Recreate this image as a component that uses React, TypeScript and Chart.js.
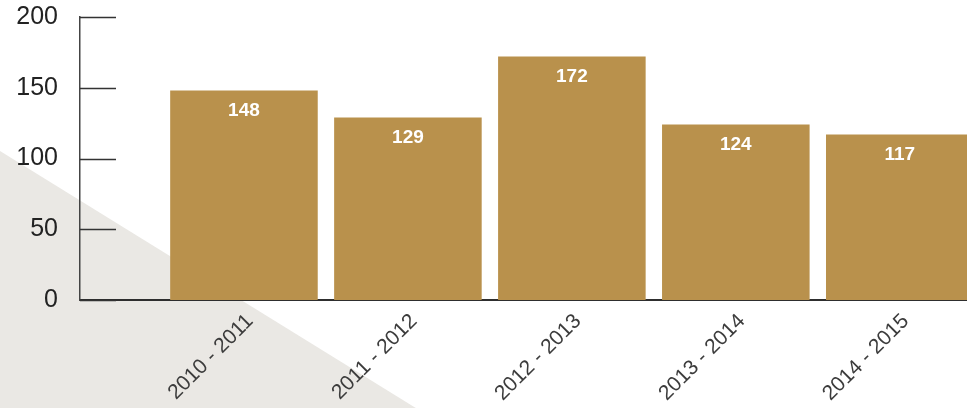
import React, { useEffect, useRef } from "react";
import { Chart, registerables } from "chart.js";

Chart.register(...registerables);

const categories: string[] = ["2010 - 2011", "2011 - 2012", "2012 - 2013", "2013 - 2014", "2014 - 2015"];
const values: number[] = [148, 129, 172, 124, 117];
const yTicks: number[] = [0, 50, 100, 150, 200];

const BAR_COLOR = "#b9914c";
const FONT = "'Liberation Sans', Arial, Helvetica, sans-serif";

const backgroundPlugin = {
  id: "paperShade",
  beforeDraw(chart: any) {
    const { ctx, width, height } = chart;
    ctx.save();
    ctx.fillStyle = "#ffffff";
    ctx.fillRect(0, 0, width, height);
    ctx.fillStyle = "#eae8e4";
    ctx.beginPath();
    ctx.moveTo(0, height * 0.37);
    ctx.lineTo(width * 0.43, height);
    ctx.lineTo(0, height);
    ctx.closePath();
    ctx.fill();
    ctx.restore();
  },
};

const tickMarkPlugin = {
  id: "innerTicks",
  afterDraw(chart: any) {
    const { ctx, chartArea } = chart;
    const y = chart.scales.y;
    ctx.save();
    ctx.strokeStyle = "#333333";
    ctx.lineWidth = 1.5;
    y.ticks.forEach((t: any) => {
      const py = Math.round(y.getPixelForValue(t.value)) + 0.5;
      ctx.beginPath();
      ctx.moveTo(chartArea.left, py);
      ctx.lineTo(chartArea.left + 36, py);
      ctx.stroke();
    });
    ctx.restore();
  },
};

const valueLabelPlugin = {
  id: "valueLabels",
  afterDatasetsDraw(chart: any) {
    const { ctx } = chart;
    const meta = chart.getDatasetMeta(0);
    ctx.save();
    ctx.fillStyle = "#ffffff";
    ctx.font = `bold 19px ${FONT}`;
    ctx.textAlign = "center";
    ctx.textBaseline = "middle";
    meta.data.forEach((bar: any, i: number) => {
      ctx.fillText(String(values[i]), bar.x, bar.y + 20);
    });
    ctx.restore();
  },
};

export default function App() {
  const canvasRef = useRef<HTMLCanvasElement | null>(null);

  useEffect(() => {
    if (!canvasRef.current) return;
    const chart = new Chart(canvasRef.current, {
      type: "bar",
      data: {
        datasets: [
          {
            data: values.map((v, i) => ({ x: i, y: v })),
            backgroundColor: BAR_COLOR,
            borderWidth: 0,
            categoryPercentage: 1,
            barPercentage: 0.9,
          },
        ],
      },
      options: {
        animation: false,
        responsive: false,
        events: [],
        layout: { padding: { top: 17, right: 0, left: 0, bottom: 0 } },
        plugins: {
          legend: { display: false },
          tooltip: { enabled: false },
        },
        scales: {
          x: {
            type: "linear",
            min: -1,
            max: 4.41,
            offset: false,
            grid: { display: false },
            border: { display: true, color: "#2e2e2e", width: 2 },
            afterBuildTicks: (scale: any) => {
              scale.ticks = categories.map((_, i) => ({ value: i }));
            },
            afterFit: (scale: any) => {
              scale.height = 108;
              scale.paddingLeft = 0;
              scale.paddingRight = 0;
            },
            ticks: {
              autoSkip: false,
              minRotation: 45,
              maxRotation: 45,
              padding: 1,
              labelOffset: 6,
              color: "#3c3c3c",
              font: { family: FONT, size: 21 },
              callback: (v: any) => categories[v as number] ?? "",
            },
          },
          y: {
            min: 0,
            max: 200,
            grid: { display: false, drawTicks: false },
            border: { display: true, color: "#444444", width: 1.5 },
            afterBuildTicks: (scale: any) => {
              scale.ticks = yTicks.map((v) => ({ value: v }));
            },
            afterFit: (scale: any) => {
              scale.width = 80;
              scale.paddingTop = 0;
              scale.paddingBottom = 0;
            },
            ticks: {
              padding: 22,
              color: "#222222",
              font: { family: FONT, size: 25 },
            },
          },
        },
      },
      plugins: [backgroundPlugin, tickMarkPlugin, valueLabelPlugin],
    } as any);
    return () => chart.destroy();
  }, []);

  return (
    <div style={{ position: "absolute", left: 0, top: 0, width: 967, height: 408, overflow: "hidden" }}>
      <canvas ref={canvasRef} width={967} height={408} style={{ display: "block" }} />
    </div>
  );
}
